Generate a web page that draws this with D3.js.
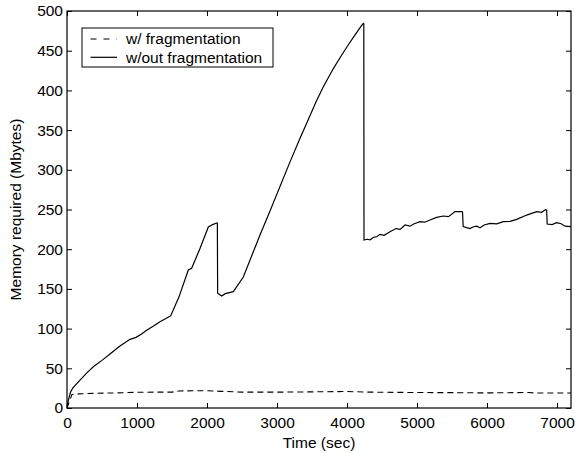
<!DOCTYPE html>
<html>
<head>
<meta charset="utf-8">
<script src="https://cdn.jsdelivr.net/npm/d3@7"></script>
<style>
  body { margin: 0; background: #fff; }
  svg text { font-family: "Liberation Sans", Arial, Helvetica, sans-serif; fill: #000; }
  .axis text { font-size: 15.5px; }
  .axis line { stroke: #000; }
  .axis path { display: none; }
</style>
</head>
<body>
<svg id="chart"></svg>
<script>
// series: w/out fragmentation (solid)
const noFragTime = [0, 20, 50, 81, 186, 280, 376, 500, 614, 757, 900, 986, 1060, 1138, 1230, 1329, 1400, 1481,
  1600, 1733, 1781, 1900, 2019, 2080, 2138, 2148, 2152, 2210, 2260, 2376, 2519, 2757, 2900, 3186, 3329, 3424,
  3560, 3662, 3805, 3920, 4019, 4120, 4210, 4233, 4240, 4243, 4290, 4330, 4380, 4424, 4471, 4530, 4614, 4700,
  4760, 4829, 4900, 4960, 5043, 5110, 5186, 5281, 5376, 5450, 5543, 5638, 5650, 5660, 5757, 5800, 5852, 5900,
  5960, 6043, 6140, 6233, 6330, 6424, 6567, 6710, 6780, 6838, 6852, 6860, 6930, 6995, 7060, 7114, 7200];
const noFragMem = [2, 10, 20, 25, 35, 44, 52, 60, 68, 78, 86.5, 89, 93, 98, 103, 108.7, 112, 116,
  140, 173.8, 176, 201, 228, 231, 233, 233, 144.5, 141, 144, 146.5, 165, 218, 248, 310, 339.6, 358.6,
  386, 404.5, 427.5, 444, 457.5, 470.5, 482, 484.5, 484, 211.6, 212.5, 211.8, 215, 215.7, 218.7, 217.5, 222,
  226, 225, 230.5, 229, 232, 234.6, 234, 236.8, 240, 241.8, 241, 247.3, 247.3, 247, 228.4, 226, 228, 229, 227,
  230.5, 232.6, 232, 234.7, 235, 237.6, 243, 247.3, 246.5, 250, 249, 231.7, 231, 233.4, 232, 229, 228.4];

// series: w/ fragmentation (dashed)
const fragTime = [0, 70, 162, 400, 700, 1000, 1300, 1500, 1600, 2000, 2200, 2500, 3000, 3500, 4000, 4300,
  5000, 5600, 6000, 6600, 6700, 7200];
const fragMem = [0, 17, 17.8, 18.5, 19, 19.8, 20, 20, 21.5, 21.8, 21, 20, 20, 20.3, 20.8, 20,
  19.5, 19.3, 19, 19.5, 18.8, 18.8];

const xTicks = [0, 1000, 2000, 3000, 4000, 5000, 6000, 7000];
const yTicks = [0, 50, 100, 150, 200, 250, 300, 350, 400, 450, 500];

const legendLabels = ['w/ fragmentation', 'w/out fragmentation'];

const containerWidth = 575, containerHeight = 453;
const margin = {top: 11, right: 4, bottom: 45, left: 67};
const width = containerWidth - margin.left - margin.right;
const height = containerHeight - margin.top - margin.bottom;

const svg = d3.select('#chart')
  .attr('width', containerWidth)
  .attr('height', containerHeight);

const chart = svg.append('g')
  .attr('transform', `translate(${margin.left},${margin.top})`);

const xScale = d3.scaleLinear().domain([0, 7200]).range([0, width]);
const yScale = d3.scaleLinear().domain([0, 500]).range([height, 0]);

// axes, MATLAB style ticks pointing inwards on all four sides
chart.append('g')
  .attr('class', 'axis x-axis')
  .attr('transform', `translate(0,${height})`)
  .call(d3.axisBottom(xScale).tickValues(xTicks).tickFormat(d3.format('d')).tickSize(-5).tickPadding(9));

chart.append('g')
  .attr('class', 'axis')
  .call(d3.axisTop(xScale).tickValues(xTicks).tickSize(-5).tickFormat(''));

chart.append('g')
  .attr('class', 'axis y-axis')
  .call(d3.axisLeft(yScale).tickValues(yTicks).tickFormat(d3.format('d')).tickSize(-5).tickPadding(4));

chart.append('g')
  .attr('class', 'axis')
  .attr('transform', `translate(${width},0)`)
  .call(d3.axisRight(yScale).tickValues(yTicks).tickSize(-5).tickFormat(''));

chart.append('rect')
  .attr('width', width)
  .attr('height', height)
  .attr('fill', 'none')
  .attr('stroke', '#000')
  .attr('stroke-width', 1.2);

// lines
const line = d3.line()
  .x(d => xScale(d[0]))
  .y(d => yScale(d[1]));

const fragData = d3.zip(fragTime, fragMem);
const noFragData = d3.zip(noFragTime, noFragMem);

chart.append('path')
  .datum(fragData)
  .attr('d', line)
  .attr('fill', 'none')
  .attr('stroke', '#000')
  .attr('stroke-width', 1.1)
  .attr('stroke-dasharray', '6,4');

chart.append('path')
  .datum(noFragData)
  .attr('d', line)
  .attr('fill', 'none')
  .attr('stroke', '#000')
  .attr('stroke-width', 1.2);

// axis titles
svg.append('text')
  .attr('x', margin.left + width / 2)
  .attr('y', 448)
  .attr('text-anchor', 'middle')
  .style('font-size', '15.5px')
  .text('Time (sec)');

svg.append('text')
  .attr('transform', `translate(20.5,${margin.top + height / 2}) rotate(-90)`)
  .attr('text-anchor', 'middle')
  .style('font-size', '15.5px')
  .text('Memory required (Mbytes)');

// legend
const legend = svg.append('g');
legend.append('rect')
  .attr('x', 82).attr('y', 28)
  .attr('width', 191).attr('height', 39)
  .attr('fill', '#fff')
  .attr('stroke', '#000')
  .attr('stroke-width', 1);

legendLabels.forEach((label, i) => {
  const ly = 39 + i * 18.3;
  legend.append('line')
    .attr('x1', 90.5).attr('x2', 117)
    .attr('y1', ly).attr('y2', ly)
    .attr('stroke', '#000')
    .attr('stroke-width', 1.2)
    .attr('stroke-dasharray', i === 0 ? '6,7' : null);
  legend.append('text')
    .attr('x', 126)
    .attr('y', ly)
    .attr('dy', '0.35em')
    .style('font-size', '15.5px')
    .text(label);
});
</script>
</body>
</html>
